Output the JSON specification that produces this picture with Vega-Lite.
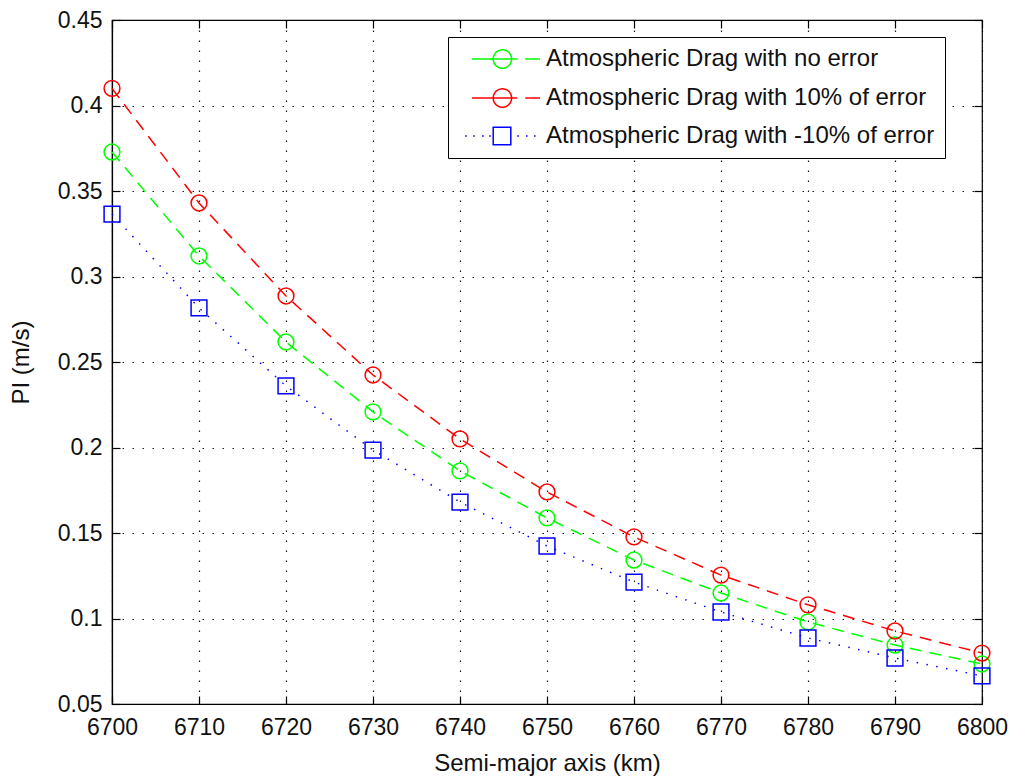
{
  "$schema": "https://vega.github.io/schema/vega-lite/v6.json",
  "autosize": "none",
  "width": 870,
  "height": 684,
  "padding": {"left": 112, "top": 20, "right": 29, "bottom": 74},
  "background": "white",
  "config": {
    "font": "Liberation Sans",
    "view": {"stroke": "black", "strokeWidth": 1.2},
    "axis": {
      "labelFont": "Liberation Sans",
      "labelFontSize": 23,
      "labelColor": "#111",
      "labelFlush": false,
      "titleFont": "Liberation Sans",
      "titleFontSize": 24,
      "titleFontWeight": "normal",
      "titleColor": "#111",
      "domainColor": "black",
      "domainWidth": 1.2,
      "tickColor": "black",
      "tickWidth": 1.2,
      "gridColor": "black",
      "gridDash": [1.5, 8.5],
      "gridWidth": 1.2,
      "gridOpacity": 0.9
    }
  },
  "data": {
    "values": [
      {"a": 6700, "pi": 0.3728, "series": "Atmospheric Drag with no error"},
      {"a": 6710, "pi": 0.3120, "series": "Atmospheric Drag with no error"},
      {"a": 6720, "pi": 0.2617, "series": "Atmospheric Drag with no error"},
      {"a": 6730, "pi": 0.2208, "series": "Atmospheric Drag with no error"},
      {"a": 6740, "pi": 0.1863, "series": "Atmospheric Drag with no error"},
      {"a": 6750, "pi": 0.1588, "series": "Atmospheric Drag with no error"},
      {"a": 6760, "pi": 0.1342, "series": "Atmospheric Drag with no error"},
      {"a": 6770, "pi": 0.1149, "series": "Atmospheric Drag with no error"},
      {"a": 6780, "pi": 0.0980, "series": "Atmospheric Drag with no error"},
      {"a": 6790, "pi": 0.0845, "series": "Atmospheric Drag with no error"},
      {"a": 6800, "pi": 0.0734, "series": "Atmospheric Drag with no error"},
      {"a": 6700, "pi": 0.4100, "series": "Atmospheric Drag with 10% of error"},
      {"a": 6710, "pi": 0.3430, "series": "Atmospheric Drag with 10% of error"},
      {"a": 6720, "pi": 0.2886, "series": "Atmospheric Drag with 10% of error"},
      {"a": 6730, "pi": 0.2424, "series": "Atmospheric Drag with 10% of error"},
      {"a": 6740, "pi": 0.2050, "series": "Atmospheric Drag with 10% of error"},
      {"a": 6750, "pi": 0.1740, "series": "Atmospheric Drag with 10% of error"},
      {"a": 6760, "pi": 0.1477, "series": "Atmospheric Drag with 10% of error"},
      {"a": 6770, "pi": 0.1254, "series": "Atmospheric Drag with 10% of error"},
      {"a": 6780, "pi": 0.1080, "series": "Atmospheric Drag with 10% of error"},
      {"a": 6790, "pi": 0.0927, "series": "Atmospheric Drag with 10% of error"},
      {"a": 6800, "pi": 0.0798, "series": "Atmospheric Drag with 10% of error"},
      {"a": 6700, "pi": 0.3365, "series": "Atmospheric Drag with -10% of error"},
      {"a": 6710, "pi": 0.2816, "series": "Atmospheric Drag with -10% of error"},
      {"a": 6720, "pi": 0.2360, "series": "Atmospheric Drag with -10% of error"},
      {"a": 6730, "pi": 0.1985, "series": "Atmospheric Drag with -10% of error"},
      {"a": 6740, "pi": 0.1681, "series": "Atmospheric Drag with -10% of error"},
      {"a": 6750, "pi": 0.1424, "series": "Atmospheric Drag with -10% of error"},
      {"a": 6760, "pi": 0.1213, "series": "Atmospheric Drag with -10% of error"},
      {"a": 6770, "pi": 0.1038, "series": "Atmospheric Drag with -10% of error"},
      {"a": 6780, "pi": 0.0886, "series": "Atmospheric Drag with -10% of error"},
      {"a": 6790, "pi": 0.0769, "series": "Atmospheric Drag with -10% of error"},
      {"a": 6800, "pi": 0.0664, "series": "Atmospheric Drag with -10% of error"}
    ]
  },
  "resolve": {"axis": {"x": "independent", "y": "independent"}},
  "layer": [
    {
      "transform": [{"filter": "datum.series != 'Atmospheric Drag with -10% of error'"}],
      "mark": {"type": "point", "filled": false, "strokeWidth": 1.5, "size": 250, "opacity": 1},
      "encoding": {
        "x": {
          "field": "a", "type": "quantitative",
          "scale": {"domain": [6700, 6800], "nice": false, "zero": false},
          "axis": {
            "title": "Semi-major axis (km)",
            "values": [6700, 6710, 6720, 6730, 6740, 6750, 6760, 6770, 6780, 6790, 6800],
            "format": "d",
            "tickSize": -8,
            "labelPadding": 20,
            "titlePadding": 12,
            "grid": true
          }
        },
        "y": {
          "field": "pi", "type": "quantitative",
          "scale": {"domain": [0.05, 0.45], "nice": false, "zero": false},
          "axis": {
            "title": "PI (m/s)",
            "values": [0.05, 0.1, 0.15, 0.2, 0.25, 0.3, 0.35, 0.4, 0.45],
            "format": "~g",
            "tickSize": -8,
            "labelPadding": 18,
            "titlePadding": 24,
            "grid": true
          }
        },
        "color": {
          "field": "series", "type": "nominal",
          "scale": {
            "domain": ["Atmospheric Drag with no error", "Atmospheric Drag with 10% of error", "Atmospheric Drag with -10% of error"],
            "range": ["#00ff00", "#ff0000", "#0000ff"]
          },
          "legend": {
            "title": null,
            "orient": "none",
            "legendX": 336,
            "legendY": 17,
            "strokeColor": "black",
            "fillColor": "white",
            "padding": 10,
            "labelFont": "Liberation Sans",
            "labelFontSize": 24,
            "labelColor": "#111",
            "labelLimit": 600,
            "symbolSize": 256,
            "symbolStrokeWidth": 1.5,
            "symbolOffset": 36,
            "labelOffset": 28,
            "rowPadding": 13,
            "symbolFillColor": "transparent",
            "symbolDash": [1, 0],
            "symbolOpacity": 1,
            "symbolType": {"expr": "datum.value == 'Atmospheric Drag with -10% of error' ? 'M-5.1,0L-4.9,0M-4.1,0L-3.9,0M-3,0L-2.8,0M-2.1,0L-1.9,0M1.4,0L1.6,0M2.5,0L2.7,0M3.5,0L3.7,0M-1.6,-1.1L0.6,-1.1L0.6,1.1L-1.6,1.1Z' : 'M-4.25,0L1.4,0M2.4,0L4.25,0M-1.6,0A1.15,1.15,0,1,1,0.7,0A1.15,1.15,0,1,1,-1.6,0Z'"}
          }
        }
      }
    },
    {
      "transform": [{"filter": "datum.series == 'Atmospheric Drag with -10% of error'"}],
      "mark": {"type": "point", "shape": "square", "filled": false, "strokeWidth": 1.5, "size": 250, "opacity": 1},
      "encoding": {
        "x": {
          "field": "a", "type": "quantitative",
          "axis": {"orient": "top", "labels": false, "title": null, "grid": false, "tickSize": -8, "domain": false,
                   "values": [6700, 6710, 6720, 6730, 6740, 6750, 6760, 6770, 6780, 6790, 6800]}
        },
        "y": {
          "field": "pi", "type": "quantitative",
          "axis": {"orient": "right", "labels": false, "title": null, "grid": false, "tickSize": -8, "domain": false,
                   "values": [0.05, 0.1, 0.15, 0.2, 0.25, 0.3, 0.35, 0.4, 0.45]}
        },
        "color": {
          "field": "series", "type": "nominal",
          "scale": {
            "domain": ["Atmospheric Drag with no error", "Atmospheric Drag with 10% of error", "Atmospheric Drag with -10% of error"],
            "range": ["#00ff00", "#ff0000", "#0000ff"]
          }
        }
      }
    },
    {
      "transform": [{"filter": "datum.series != 'Atmospheric Drag with -10% of error'"}],
      "mark": {"type": "line", "strokeWidth": 1.5, "strokeDash": [12, 8]},
      "encoding": {
        "x": {"field": "a", "type": "quantitative", "axis": null},
        "y": {"field": "pi", "type": "quantitative", "axis": null},
        "color": {
          "field": "series", "type": "nominal",
          "scale": {
            "domain": ["Atmospheric Drag with no error", "Atmospheric Drag with 10% of error", "Atmospheric Drag with -10% of error"],
            "range": ["#00ff00", "#ff0000", "#0000ff"]
          }
        }
      }
    },
    {
      "transform": [{"filter": "datum.series == 'Atmospheric Drag with -10% of error'"}],
      "mark": {"type": "line", "strokeWidth": 1.5, "strokeDash": [1.5, 8.5]},
      "encoding": {
        "x": {"field": "a", "type": "quantitative", "axis": null},
        "y": {"field": "pi", "type": "quantitative", "axis": null},
        "color": {
          "field": "series", "type": "nominal",
          "scale": {
            "domain": ["Atmospheric Drag with no error", "Atmospheric Drag with 10% of error", "Atmospheric Drag with -10% of error"],
            "range": ["#00ff00", "#ff0000", "#0000ff"]
          }
        }
      }
    }
  ]
}
